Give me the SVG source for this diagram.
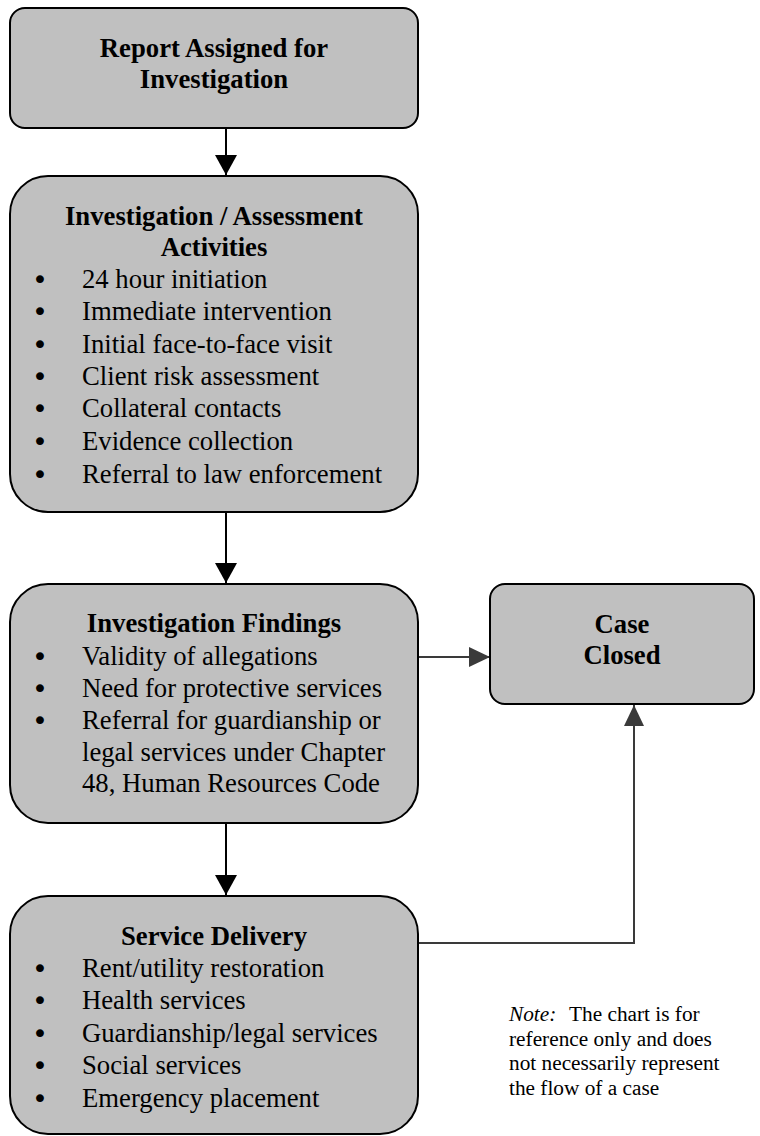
<svg xmlns="http://www.w3.org/2000/svg" width="760" height="1136" viewBox="0 0 760 1136">
<defs>
<style>
.box{fill:#c0c0c0;stroke:#000;stroke-width:2}
.t{font-family:"Liberation Serif","Times New Roman",serif;font-size:26.7px;fill:#000}
.b{font-weight:bold;text-anchor:middle}
.bul{font-family:"DejaVu Sans",sans-serif;font-size:27px;fill:#000;text-anchor:middle}
.note{font-family:"Liberation Serif","Times New Roman",serif;font-size:21.3px;fill:#000}
.blk{stroke:#000;stroke-width:2;fill:none}
.gry{stroke:#3a3a3a;stroke-width:2;fill:none}
</style>
<marker id="ab" markerUnits="userSpaceOnUse" markerWidth="20" markerHeight="22" viewBox="0 0 20 22" refX="20" refY="11" orient="auto">
<path d="M0,0 L20,11 L0,22 z" fill="#000"/>
</marker>
<marker id="ag" markerUnits="userSpaceOnUse" markerWidth="21" markerHeight="20" viewBox="0 0 21 20" refX="21" refY="10" orient="auto">
<path d="M0,0 L21,10 L0,20 z" fill="#3a3a3a"/>
</marker>
</defs>
<g id="connectors">
<line class="blk" x1="226" y1="128" x2="226" y2="175" marker-end="url(#ab)"/>
<line class="blk" x1="226" y1="512" x2="226" y2="583" marker-end="url(#ab)"/>
<line class="blk" x1="226" y1="823" x2="226" y2="895" marker-end="url(#ab)"/>
<line class="gry" x1="419" y1="657" x2="490" y2="657" marker-end="url(#ag)"/>
<path class="gry" d="M419,943 H634 V705" marker-end="url(#ag)"/>
</g>
<g id="report-assigned">
<rect class="box" x="10" y="8" width="408" height="120" rx="15" ry="15"/>
<text class="t b" x="214" y="57">Report Assigned for</text>
<text class="t b" x="214" y="88">Investigation</text>
</g>
<g id="investigation-activities">
<rect class="box" x="10" y="176" width="408" height="336" rx="38" ry="38"/>
<text class="t b" x="214" y="225">Investigation / Assessment</text>
<text class="t b" x="214" y="256">Activities</text>
<text class="bul" x="40" y="289">•</text><text class="t" x="82" y="288">24 hour initiation</text>
<text class="bul" x="40" y="321">•</text><text class="t" x="82" y="320">Immediate intervention</text>
<text class="bul" x="40" y="354">•</text><text class="t" x="82" y="353">Initial face-to-face visit</text>
<text class="bul" x="40" y="386">•</text><text class="t" x="82" y="385">Client risk assessment</text>
<text class="bul" x="40" y="418">•</text><text class="t" x="82" y="417">Collateral contacts</text>
<text class="bul" x="40" y="451">•</text><text class="t" x="82" y="450">Evidence collection</text>
<text class="bul" x="40" y="484">•</text><text class="t" x="82" y="483">Referral to law enforcement</text>
</g>
<g id="investigation-findings">
<rect class="box" x="10" y="584" width="408" height="239" rx="38" ry="38"/>
<text class="t b" x="214" y="632">Investigation Findings</text>
<text class="bul" x="40" y="666">•</text><text class="t" x="82" y="665">Validity of allegations</text>
<text class="bul" x="40" y="698">•</text><text class="t" x="82" y="697">Need for protective services</text>
<text class="bul" x="40" y="730">•</text><text class="t" x="82" y="729">Referral for guardianship or</text>
<text class="t" x="82" y="761">legal services under Chapter</text>
<text class="t" x="82" y="792">48, Human Resources Code</text>
</g>
<g id="case-closed">
<rect class="box" x="490" y="584" width="264" height="120" rx="15" ry="15"/>
<text class="t b" x="622" y="633">Case</text>
<text class="t b" x="622" y="664">Closed</text>
</g>
<g id="service-delivery">
<rect class="box" x="10" y="896" width="408" height="238" rx="38" ry="38"/>
<text class="t b" x="214" y="945">Service Delivery</text>
<text class="bul" x="40" y="978">•</text><text class="t" x="82" y="977">Rent/utility restoration</text>
<text class="bul" x="40" y="1010">•</text><text class="t" x="82" y="1009">Health services</text>
<text class="bul" x="40" y="1043">•</text><text class="t" x="82" y="1042">Guardianship/legal services</text>
<text class="bul" x="40" y="1075">•</text><text class="t" x="82" y="1074">Social services</text>
<text class="bul" x="40" y="1108">•</text><text class="t" x="82" y="1107">Emergency placement</text>
</g>
<g id="note">
<text class="note" x="509" y="1021"><tspan font-style="italic">Note:</tspan><tspan x="569">The chart is for</tspan></text>
<text class="note" x="509" y="1045.5">reference only and does</text>
<text class="note" x="509" y="1070">not necessarily represent</text>
<text class="note" x="509" y="1094.5">the flow of a case</text>
</g>
</svg>
